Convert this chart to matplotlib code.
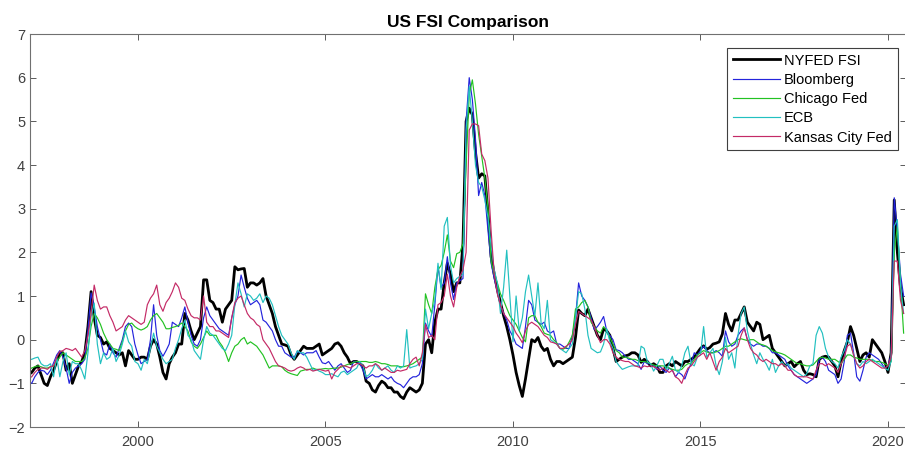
import numpy as np
import matplotlib
matplotlib.use("Agg")
import matplotlib.pyplot as plt

plt.rcParams["font.family"] = ["Liberation Sans", "DejaVu Sans"]

# monthly values, Jan 1997 - Jun 2020 (one row per year)
nyfed = [
    [-0.8, -0.8, -0.75, -0.65, -0.6, -0.8, -1.0, -1.05, -0.85, -0.7, -0.5, -0.3],
    [-0.3, -0.7, -0.55, -1.0, -0.8, -0.6, -0.5, -0.3, 0.3, 1.1, 0.5, 0.1],
    [0.05, -0.1, -0.05, -0.2, -0.25, -0.3, -0.35, -0.3, -0.6, -0.25, -0.35, -0.45],
    [-0.45, -0.4, -0.4, -0.45, -0.15, 0.0, -0.1, -0.4, -0.75, -0.9, -0.55, -0.4],
    [-0.3, -0.1, -0.1, 0.6, 0.45, 0.2, 0.0, 0.15, 0.3, 1.37, 1.37, 0.9],
    [0.85, 0.7, 0.7, 0.4, 0.7, 0.8, 0.9, 1.67, 1.6, 1.62, 1.63, 1.2],
    [1.3, 1.3, 1.25, 1.3, 1.4, 1.0, 0.8, 0.6, 0.3, 0.1, -0.1, -0.12],
    [-0.15, -0.35, -0.45, -0.35, -0.25, -0.15, -0.2, -0.2, -0.2, -0.15, -0.1, -0.35],
    [-0.3, -0.25, -0.2, -0.1, -0.07, -0.15, -0.3, -0.4, -0.55, -0.5, -0.5, -0.55],
    [-0.6, -0.95, -1.0, -1.15, -1.2, -1.05, -0.95, -1.0, -1.1, -1.1, -1.2, -1.2],
    [-1.3, -1.35, -1.2, -1.1, -1.15, -1.2, -1.15, -1.0, -0.1, 0.0, -0.3, 0.4],
    [0.7, 0.7, 1.3, 1.75, 1.5, 1.1, 1.3, 1.3, 2.2, 5.0, 5.3, 5.15],
    [4.3, 3.7, 3.8, 3.75, 2.9, 1.9, 1.5, 1.15, 0.85, 0.55, 0.3, 0.0],
    [-0.35, -0.75, -1.05, -1.3, -0.9, -0.45, 0.0, -0.05, 0.05, -0.15, -0.25, -0.2],
    [-0.45, -0.6, -0.5, -0.5, -0.55, -0.5, -0.45, -0.4, 0.05, 0.68, 0.6, 0.55],
    [0.7, 0.5, 0.3, 0.1, 0.0, 0.25, 0.2, 0.1, -0.2, -0.5, -0.45, -0.4],
    [-0.37, -0.35, -0.3, -0.3, -0.35, -0.52, -0.45, -0.5, -0.6, -0.55, -0.6, -0.75],
    [-0.75, -0.6, -0.55, -0.6, -0.5, -0.55, -0.6, -0.5, -0.5, -0.45, -0.4, -0.3],
    [-0.2, -0.14, -0.22, -0.18, -0.1, -0.08, -0.05, 0.13, 0.6, 0.35, 0.2, 0.45],
    [0.45, 0.6, 0.75, 0.4, 0.3, 0.2, 0.4, 0.35, 0.0, 0.05, 0.1, -0.2],
    [-0.3, -0.4, -0.5, -0.6, -0.55, -0.5, -0.62, -0.55, -0.5, -0.7, -0.8, -0.78],
    [-0.8, -0.85, -0.45, -0.4, -0.38, -0.4, -0.5, -0.6, -0.85, -0.5, -0.25, -0.05],
    [0.3, 0.1, -0.2, -0.5, -0.35, -0.3, -0.4, 0.0, -0.1, -0.2, -0.3, -0.5],
    [-0.75, -0.3, 3.2, 2.0, 1.2, 0.8],
]

bloomberg = [
    [-0.9, -0.97, -1.0, -0.85, -0.75, -0.7, -0.72, -0.8, -0.7, -0.53, -0.35, -0.25],
    [-0.4, -0.65, -1.0, -0.75, -0.65, -0.6, -0.55, -0.45, 0.23, 1.07, 0.75, 0.3],
    [0.0, -0.3, -0.35, -0.1, -0.3, -0.4, -0.2, 0.0, 0.3, 0.38, 0.3, -0.1],
    [-0.35, -0.55, -0.5, -0.45, 0.0, 0.8, 0.1, -0.25, -0.38, -0.25, -0.1, 0.4],
    [0.35, 0.3, 0.5, 0.75, 0.4, 0.1, -0.1, -0.15, 0.0, 0.5, 0.75, 0.55],
    [0.45, 0.35, 0.25, 0.2, 0.15, 0.1, 0.5, 0.8, 1.0, 1.48, 1.2, 0.95],
    [0.8, 0.85, 0.9, 0.8, 0.45, 0.4, 0.3, 0.2, 0.0, -0.15, -0.15, -0.3],
    [-0.35, -0.4, -0.4, -0.27, -0.3, -0.35, -0.3, -0.3, -0.3, -0.25, -0.4, -0.53],
    [-0.55, -0.5, -0.6, -0.7, -0.6, -0.55, -0.65, -0.75, -0.7, -0.5, -0.5, -0.55],
    [-0.7, -0.9, -0.85, -0.8, -0.85, -0.85, -0.8, -0.85, -0.9, -0.85, -0.95, -1.0],
    [-1.03, -1.1, -1.0, -0.9, -0.85, -0.85, -0.8, -0.55, 0.38, 0.2, 0.07, 0.8],
    [1.67, 1.2, 1.3, 1.9, 1.3, 0.92, 1.3, 1.35, 1.4, 5.0, 6.0, 5.5],
    [4.6, 3.3, 3.6, 3.3, 2.5, 1.75, 1.4, 1.1, 0.8, 0.6, 0.45, 0.2],
    [0.07, -0.1, -0.15, -0.2, 0.3, 0.9, 0.8, 0.45, 0.4, 0.35, 0.4, 0.2],
    [0.15, 0.2, -0.1, -0.1, -0.15, -0.2, -0.2, 0.1, 0.5, 1.3, 1.0, 0.9],
    [0.75, 0.5, 0.23, 0.3, 0.4, 0.53, 0.2, 0.1, 0.0, -0.23, -0.25, -0.3],
    [-0.38, -0.45, -0.45, -0.5, -0.55, -0.68, -0.5, -0.55, -0.55, -0.6, -0.68, -0.6],
    [-0.7, -0.75, -0.65, -0.7, -0.85, -0.75, -0.8, -0.9, -0.7, -0.55, -0.3, -0.35],
    [-0.25, -0.15, -0.25, -0.3, -0.3, -0.25, -0.3, -0.38, 0.2, -0.05, -0.15, -0.1],
    [0.1, 0.2, 0.27, 0.0, -0.1, -0.15, -0.1, -0.1, -0.15, -0.15, -0.2, -0.3],
    [-0.3, -0.35, -0.4, -0.45, -0.6, -0.7, -0.8, -0.85, -0.9, -0.95, -1.0, -0.95],
    [-0.9, -0.8, -0.45, -0.4, -0.5, -0.7, -0.75, -0.8, -1.0, -0.9, -0.5, 0.1],
    [0.15, -0.3, -0.85, -0.95, -0.7, -0.4, -0.3, -0.35, -0.4, -0.45, -0.55, -0.65],
    [-0.6, -0.35, 3.25, 2.5, 1.5, 1.0],
]

chicago = [
    [-0.7, -0.68, -0.65, -0.62, -0.6, -0.62, -0.65, -0.65, -0.62, -0.6, -0.5, -0.4],
    [-0.3, -0.35, -0.4, -0.45, -0.5, -0.5, -0.5, -0.42, -0.2, 0.3, 0.6, 0.5],
    [0.35, 0.15, 0.0, -0.1, -0.2, -0.22, -0.25, -0.05, 0.2, 0.35, 0.38, 0.3],
    [0.25, 0.22, 0.25, 0.3, 0.45, 0.55, 0.6, 0.5, 0.4, 0.25, 0.25, 0.28],
    [0.3, 0.33, 0.38, 0.3, 0.2, -0.05, -0.15, -0.2, -0.1, 0.05, 0.2, 0.1],
    [0.1, 0.1, -0.05, -0.15, -0.3, -0.5, -0.3, -0.15, -0.1, 0.0, 0.05, -0.1],
    [-0.05, -0.1, -0.15, -0.25, -0.35, -0.5, -0.65, -0.6, -0.6, -0.6, -0.62, -0.7],
    [-0.75, -0.78, -0.8, -0.82, -0.72, -0.7, -0.68, -0.68, -0.65, -0.68, -0.68, -0.67],
    [-0.66, -0.67, -0.66, -0.65, -0.65, -0.63, -0.6, -0.57, -0.55, -0.52, -0.5, -0.5],
    [-0.5, -0.5, -0.52, -0.52, -0.5, -0.52, -0.55, -0.55, -0.57, -0.6, -0.6, -0.6],
    [-0.62, -0.62, -0.6, -0.58, -0.55, -0.5, -0.45, -0.4, 1.05, 0.8, 0.6, 1.2],
    [1.6, 1.7, 2.0, 2.4, 1.8, 1.65, 1.97, 2.0, 2.2, 4.0, 5.6, 5.95],
    [5.4, 4.7, 4.2, 3.7, 3.0, 1.8, 1.5, 1.3, 1.05, 0.9, 0.72, 0.55],
    [0.45, 0.35, 0.2, 0.05, -0.05, 0.5, 0.55, 0.55, 0.4, 0.3, 0.15, 0.12],
    [0.1, 0.0, -0.07, -0.2, -0.22, -0.18, -0.05, 0.1, 0.7, 0.75, 0.85, 0.9],
    [0.75, 0.4, 0.3, 0.2, 0.15, 0.3, 0.2, 0.05, -0.1, -0.25, -0.3, -0.4],
    [-0.4, -0.42, -0.45, -0.45, -0.48, -0.5, -0.5, -0.52, -0.55, -0.58, -0.6, -0.6],
    [-0.6, -0.62, -0.65, -0.68, -0.7, -0.7, -0.68, -0.6, -0.55, -0.55, -0.45, -0.35],
    [-0.3, -0.25, -0.28, -0.3, -0.3, -0.28, -0.25, -0.2, -0.15, -0.15, -0.1, -0.05],
    [0.0, 0.02, 0.0, -0.02, 0.0, 0.0, -0.05, -0.1, -0.12, -0.15, -0.2, -0.25],
    [-0.28, -0.3, -0.32, -0.35, -0.4, -0.45, -0.5, -0.55, -0.55, -0.58, -0.6, -0.6],
    [-0.58, -0.5, -0.42, -0.4, -0.42, -0.45, -0.45, -0.45, -0.5, -0.55, -0.45, -0.35],
    [-0.35, -0.4, -0.42, -0.45, -0.45, -0.45, -0.45, -0.48, -0.5, -0.5, -0.52, -0.55],
    [-0.6, -0.5, 2.0, 2.6, 1.3, 0.15],
]

ecb = [
    [-0.5, -0.45, -0.45, -0.42, -0.4, -0.55, -0.6, -0.6, -0.55, -0.85, -0.4, -0.85],
    [-0.5, -0.3, -0.8, -0.5, -0.55, -0.55, -0.7, -0.9, -0.3, 0.53, 0.84, -0.1],
    [-0.55, -0.3, -0.45, -0.4, -0.2, -0.5, -0.35, -0.1, 0.2, -0.05, -0.15, -0.5],
    [-0.55, -0.7, -0.45, -0.55, -0.2, 0.15, -0.15, -0.3, -0.45, -0.55, -0.5, -0.45],
    [-0.2, 0.0, 0.25, 0.45, 0.1, 0.0, -0.25, -0.35, -0.45, 0.0, 0.3, 0.15],
    [0.1, 0.0, -0.1, -0.2, -0.25, -0.1, 0.1, 0.8, 1.3, 1.05, 0.75, 1.05],
    [1.0, 0.9, 0.95, 1.05, 0.85, 1.0, 0.95, 0.8, 0.55, 0.3, 0.1, 0.0],
    [-0.1, -0.3, -0.45, -0.25, -0.3, -0.3, -0.4, -0.55, -0.7, -0.68, -0.72, -0.75],
    [-0.8, -0.8, -0.78, -0.82, -0.85, -0.75, -0.72, -0.8, -0.75, -0.7, -0.65, -0.5],
    [-0.6, -0.85, -0.8, -0.7, -0.55, -0.65, -0.7, -0.65, -0.6, -0.7, -0.75, -0.6],
    [-0.65, -0.6, 0.23, -0.65, -0.62, -0.6, -0.55, -0.45, 0.7, 0.25, 0.6, 0.9],
    [1.75, 1.15, 2.6, 2.8, 1.7, 1.3, 1.4, 1.45, 1.5, 4.8, 5.8, 5.0],
    [4.0, 3.6, 3.5, 3.2, 2.8, 2.15, 1.6, 1.3, 0.6, 1.2, 2.05, 1.0],
    [-0.05, 1.0, 0.2, 0.5, 1.1, 1.48, 1.0, 0.55, 1.3, 0.38, 0.25, 0.9],
    [0.0, -0.05, -0.1, -0.2, -0.25, -0.3, -0.2, -0.1, 0.5, 1.1, 1.05, 0.7],
    [0.1, -0.2, -0.25, -0.3, -0.28, -0.1, 0.25, -0.05, -0.2, -0.5, -0.6, -0.68],
    [-0.65, -0.62, -0.6, -0.6, -0.6, -0.15, -0.2, -0.5, -0.55, -0.72, -0.6, -0.45],
    [-0.45, -0.7, -0.55, -0.38, -0.7, -0.75, -0.6, -0.3, -0.15, -0.55, -0.6, -0.4],
    [-0.35, 0.3, -0.4, -0.3, -0.2, -0.6, -0.8, -0.5, 0.05, -0.45, -0.3, -0.65],
    [0.1, 0.6, 0.75, 0.2, -0.1, -0.35, -0.55, -0.3, -0.45, -0.55, -0.7, -0.45],
    [-0.75, -0.6, -0.5, -0.6, -0.55, -0.65, -0.7, -0.75, -0.8, -0.85, -0.78, -0.6],
    [-0.55, 0.1, 0.3, 0.15, -0.2, -0.4, -0.5, -0.55, -0.65, -0.4, -0.25, 0.0],
    [-0.1, -0.35, -0.55, -0.6, -0.5, -0.55, -0.5, -0.45, -0.5, -0.55, -0.6, -0.65],
    [-0.7, -0.5, 2.6, 2.75, 1.25, 0.6],
]

kcfed = [
    [-0.9, -0.88, -0.85, -0.75, -0.68, -0.65, -0.65, -0.68, -0.62, -0.6, -0.4, -0.27],
    [-0.25, -0.2, -0.22, -0.25, -0.2, -0.3, -0.4, -0.25, 0.1, 0.6, 1.25, 0.9],
    [0.7, 0.75, 0.75, 0.55, 0.4, 0.2, 0.25, 0.3, 0.45, 0.55, 0.5, 0.45],
    [0.4, 0.35, 0.4, 0.8, 0.95, 1.05, 1.25, 0.8, 0.65, 0.85, 0.95, 1.1],
    [1.3, 1.2, 0.95, 0.9, 0.7, 0.55, 0.5, 0.5, 0.45, 1.0, 0.4, 0.3],
    [0.3, 0.2, 0.2, 0.15, 0.1, 0.05, 0.5, 0.85, 0.95, 1.0, 0.8, 0.6],
    [0.5, 0.45, 0.35, 0.3, 0.0, -0.1, -0.2, -0.35, -0.5, -0.6, -0.62, -0.65],
    [-0.7, -0.72, -0.7, -0.65, -0.62, -0.65, -0.7, -0.68, -0.72, -0.7, -0.68, -0.7],
    [-0.72, -0.7, -0.9, -0.75, -0.68, -0.6, -0.6, -0.62, -0.65, -0.6, -0.55, -0.55],
    [-0.6, -0.65, -0.6, -0.6, -0.55, -0.6, -0.7, -0.65, -0.7, -0.75, -0.75, -0.7],
    [-0.72, -0.7, -0.68, -0.55, -0.45, -0.4, -0.6, -0.3, 0.35, 0.05, 0.1, 0.0],
    [0.8, 0.85, 1.0, 1.5, 1.0, 0.75, 1.2, 1.45, 1.6, 2.0, 4.8, 4.94],
    [4.94, 4.9, 4.25, 4.1, 3.7, 2.5, 1.5, 1.05, 0.8, 0.6, 0.5, 0.4],
    [0.3, 0.15, 0.05, -0.07, 0.2, 0.35, 0.4, 0.35, 0.3, 0.2, 0.1, 0.05],
    [-0.05, -0.07, -0.1, -0.2, -0.2, -0.15, -0.1, 0.0, 0.35, 0.65, 0.6, 0.55],
    [0.5, 0.45, 0.3, 0.1, -0.07, 0.0, 0.0, -0.1, -0.3, -0.4, -0.45, -0.48],
    [-0.5, -0.5, -0.55, -0.6, -0.62, -0.65, -0.6, -0.62, -0.6, -0.62, -0.65, -0.7],
    [-0.65, -0.7, -0.75, -0.7, -0.85, -0.9, -1.0, -0.8, -0.65, -0.6, -0.5, -0.4],
    [-0.35, -0.3, -0.45, -0.3, -0.5, -0.7, -0.5, -0.4, -0.2, -0.3, -0.25, -0.2],
    [-0.15, 0.1, 0.27, 0.0, -0.2, -0.3, -0.35, -0.45, -0.5, -0.45, -0.5, -0.55],
    [-0.55, -0.6, -0.55, -0.6, -0.7, -0.7, -0.8, -0.85, -0.85, -0.85, -0.85, -0.88],
    [-0.9, -0.7, -0.55, -0.55, -0.6, -0.55, -0.6, -0.65, -0.75, -0.55, -0.4, -0.15],
    [-0.1, -0.35, -0.55, -0.65, -0.6, -0.5, -0.45, -0.5, -0.55, -0.6, -0.65, -0.65],
    [-0.6, -0.4, 1.8, 1.8, 0.9, 0.6],
]

labels = ["NYFED FSI", "Bloomberg", "Chicago Fed", "ECB", "Kansas City Fed"]
colors = ["black", "#2424dc", "#22c222", "#22c0c0", "#c42a66"]
widths = [2.0, 0.85, 0.85, 0.85, 0.85]


def flat(rows):
    return np.array([v for row in rows for v in row])


series = [flat(nyfed), flat(bloomberg), flat(chicago), flat(ecb), flat(kcfed)]
dates = 1997 + np.arange(len(series[0])) / 12.0

fig = plt.figure(figsize=(9.05, 4.51), dpi=100)
ax = fig.add_axes([0.0331, 0.0532, 0.968, 0.8714])

for y, lab, c, lw in zip(series, labels, colors, widths):
    ax.plot(dates, y, color=c, linewidth=lw, label=lab)

ax.set_xlim(1997.12, 2020.48)
ax.set_ylim(-2, 7)
ax.set_xticks([2000, 2005, 2010, 2015, 2020])
ax.set_yticks(range(-2, 8))
ax.tick_params(direction="in", length=4, width=0.6, colors="#404040",
               labelsize=10.5, top=True, right=True)
ax.tick_params(axis="x", pad=6)
for s in ax.spines.values():
    s.set_color("#707070")
    s.set_linewidth(0.8)

ax.set_title("US FSI Comparison", fontsize=12.5, fontweight="bold", pad=5)

leg = ax.legend(loc="upper right", bbox_to_anchor=(0.9905, 0.965), fontsize=10.5,
                handlelength=3.2, handletextpad=0.3, labelspacing=0.36,
                borderpad=0.4, borderaxespad=0.0, fancybox=False, framealpha=1)
leg.get_frame().set_edgecolor("#404040")
leg.get_frame().set_linewidth(0.8)

fig.savefig("out.png", dpi=100)
